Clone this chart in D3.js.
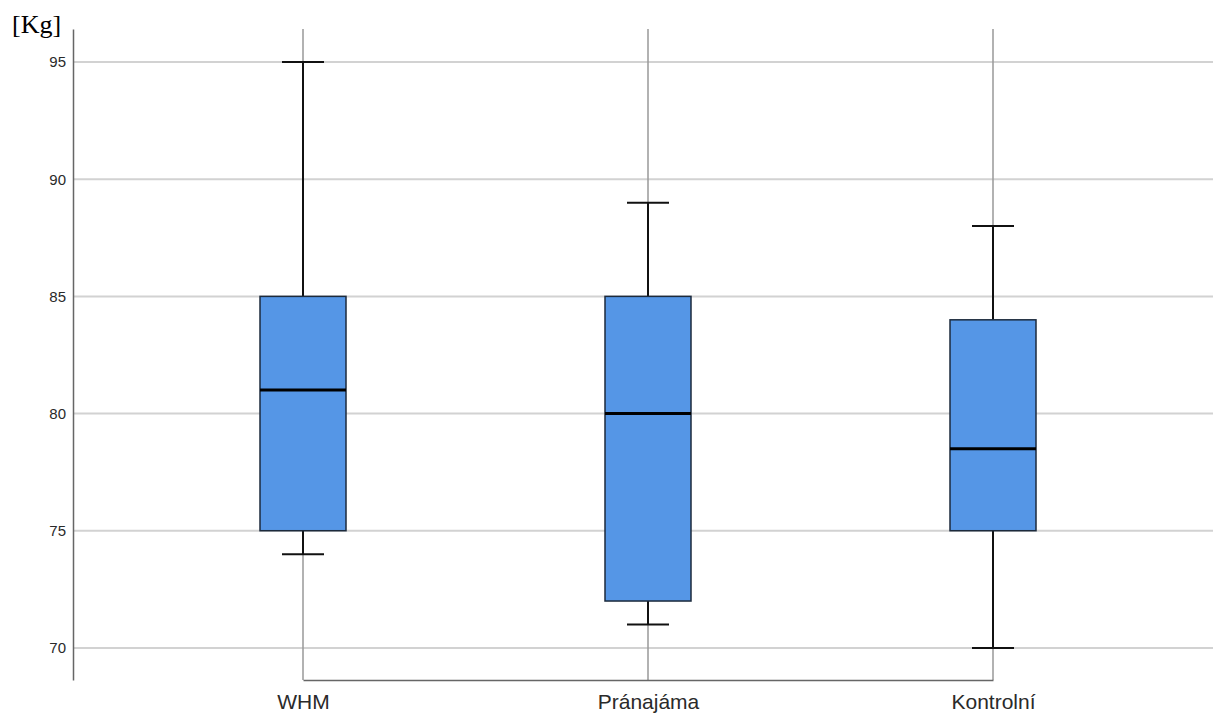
<!DOCTYPE html>
<html>
<head>
<meta charset="utf-8">
<script src="https://cdn.jsdelivr.net/npm/d3@7"></script>
<style>
  html, body { margin: 0; padding: 0; background: #fff; }
  svg { display: block; }
</style>
</head>
<body>
<svg id="chart" width="1213" height="713"></svg>
<script>
// Body weight by group: five-number summaries
const categories = ["WHM", "Pránajáma", "Kontrolní"];
const mins    = [74, 71, 70];
const q1s     = [75, 72, 75];
const medians = [81, 80, 78.5];
const q3s     = [85, 85, 84];
const maxs    = [95, 89, 88];
const yTicks  = [70, 75, 80, 85, 90, 95];
const yLabel  = "[Kg]";

const W = 1213, H = 713;
const margin = { left: 73, top: 29, bottom: 33, right: 0 };
const innerW = W - margin.left - margin.right;
const innerH = H - margin.top - margin.bottom;

const svg = d3.select("#chart");
const g = svg.append("g").attr("transform", `translate(${margin.left},${margin.top})`);

const y = d3.scaleLinear().domain([68.63, 96.41]).range([innerH, 0]);
const x = d3.scalePoint().domain(categories).range([230, 920]);

const boxW = 86, capW = 42;

// horizontal gridlines
g.append("g").selectAll("line").data(yTicks).join("line")
  .attr("x1", 0).attr("x2", innerW)
  .attr("y1", d => y(d)).attr("y2", d => y(d))
  .attr("stroke", "#d2d2d2").attr("stroke-width", 2);

// vertical reference lines at each category
g.append("g").selectAll("line").data(categories).join("line")
  .attr("x1", d => x(d)).attr("x2", d => x(d))
  .attr("y1", 0).attr("y2", innerH)
  .attr("stroke", "#999").attr("stroke-width", 1.5);

// y axis
const yAxis = d3.axisLeft(y).tickValues(yTicks).tickSize(0).tickPadding(7);
const ya = g.append("g").call(yAxis);
ya.select(".domain").attr("stroke", "#666").attr("stroke-width", 1.5);
ya.selectAll("text").attr("font-family", "'Liberation Sans', Arial, sans-serif")
  .attr("font-size", 15).attr("fill", "#2a2a2a");

// x axis
const xAxis = d3.axisBottom(x).tickSize(0).tickPadding(14);
const xa = g.append("g").attr("transform", `translate(0,${innerH})`).call(xAxis);
xa.select(".domain").attr("stroke", "#666").attr("stroke-width", 1.5);
xa.selectAll("text").attr("font-family", "'Liberation Sans', Arial, sans-serif")
  .attr("font-size", 21).attr("fill", "#2a2a2a");

const data = categories.map((c, i) => ({
  c, min: mins[i], q1: q1s[i], med: medians[i], q3: q3s[i], max: maxs[i]
}));

const box = g.append("g").selectAll("g").data(data).join("g");

// whiskers
box.append("line")
  .attr("x1", d => x(d.c)).attr("x2", d => x(d.c))
  .attr("y1", d => y(d.q3)).attr("y2", d => y(d.max))
  .attr("stroke", "#111").attr("stroke-width", 2);
box.append("line")
  .attr("x1", d => x(d.c)).attr("x2", d => x(d.c))
  .attr("y1", d => y(d.q1)).attr("y2", d => y(d.min))
  .attr("stroke", "#111").attr("stroke-width", 2);
// caps
box.append("line")
  .attr("x1", d => x(d.c) - capW / 2).attr("x2", d => x(d.c) + capW / 2)
  .attr("y1", d => y(d.max)).attr("y2", d => y(d.max))
  .attr("stroke", "#111").attr("stroke-width", 2);
box.append("line")
  .attr("x1", d => x(d.c) - capW / 2).attr("x2", d => x(d.c) + capW / 2)
  .attr("y1", d => y(d.min)).attr("y2", d => y(d.min))
  .attr("stroke", "#111").attr("stroke-width", 2);

// boxes
box.append("rect")
  .attr("x", d => x(d.c) - boxW / 2)
  .attr("width", boxW)
  .attr("y", d => y(d.q3))
  .attr("height", d => y(d.q1) - y(d.q3))
  .attr("fill", "#5596e6")
  .attr("stroke", "#1c2a3c").attr("stroke-width", 1.5);

// medians
box.append("line")
  .attr("x1", d => x(d.c) - boxW / 2).attr("x2", d => x(d.c) + boxW / 2)
  .attr("y1", d => y(d.med)).attr("y2", d => y(d.med))
  .attr("stroke", "#000").attr("stroke-width", 3);

// unit label
svg.append("text")
  .attr("x", 12).attr("y", 33)
  .attr("font-family", "'Liberation Serif', 'Times New Roman', serif")
  .attr("font-size", 26).attr("fill", "#000")
  .text(yLabel);
</script>
</body>
</html>
